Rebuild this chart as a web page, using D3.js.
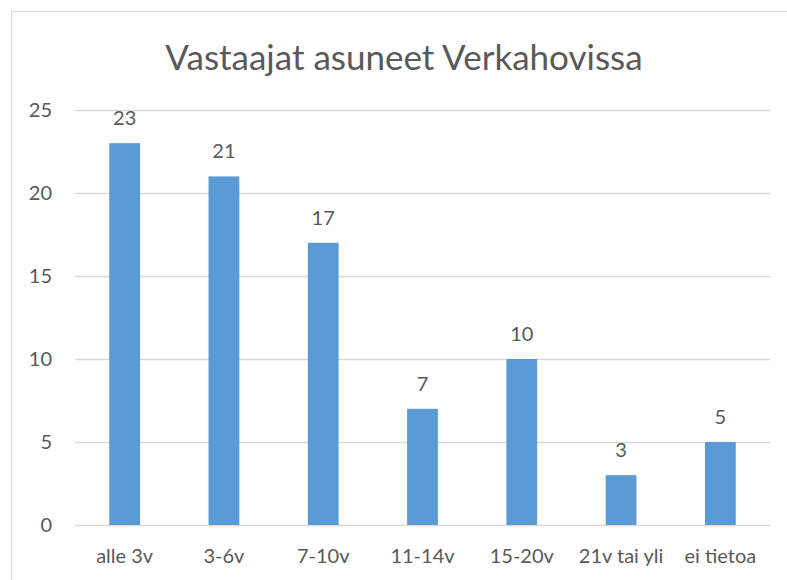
<!DOCTYPE html>
<html>
<head>
<meta charset="utf-8">
<script src="https://cdn.jsdelivr.net/npm/d3@7"></script>
<style>
  body { margin: 0; background: #fff; }
  text { font-family: Lato, "Open Sans", sans-serif; fill: #595959; }
</style>
</head>
<body>
<div id="chart"></div>
<script>
var categories = ["alle 3v", "3-6v", "7-10v", "11-14v", "15-20v", "21v tai yli", "ei tietoa"];
var values = [23, 21, 17, 7, 10, 3, 5];
var yTicks = [0, 5, 10, 15, 20, 25];
var title = "Vastaajat asuneet Verkahovissa";

var width = 787, height = 580;
var margin = { left: 75, right: 17, top: 110, bottom: 55 };

var svg = d3.select("#chart")
    .append("svg")
    .attr("width", width)
    .attr("height", height);

// outer frame (only left and top edges are visible in the crop)
svg.append("path")
    .attr("d", "M11.5," + height + "V11.5H" + width)
    .attr("fill", "none")
    .attr("stroke", "#d9d9d9")
    .attr("stroke-width", 1);

var x = d3.scaleBand()
    .domain(categories)
    .range([margin.left, width - margin.right]);

var y = d3.scaleLinear()
    .domain([0, 25])
    .range([height - margin.bottom, margin.top]);

var barW = x.bandwidth() * 0.31;

// gridlines
svg.append("g").selectAll("line")
    .data(yTicks)
    .enter().append("line")
    .attr("x1", margin.left)
    .attr("x2", width - margin.right)
    .attr("y1", function (d) { return Math.round(y(d)) + 0.5; })
    .attr("y2", function (d) { return Math.round(y(d)) + 0.5; })
    .attr("stroke", "#d9d9d9")
    .attr("stroke-width", 1.3);

// y tick labels
svg.append("g").selectAll("text")
    .data(yTicks)
    .enter().append("text")
    .attr("x", 52)
    .attr("y", function (d) { return y(d); })
    .attr("dy", "0.36em")
    .attr("text-anchor", "end")
    .style("font-size", "20px")
    .text(function (d) { return d; });

// bars
var bar = svg.append("g").selectAll("g")
    .data(values)
    .enter().append("g");

bar.append("rect")
    .attr("x", function (d, i) { return x(categories[i]) + x.bandwidth() / 2 - barW / 2; })
    .attr("y", function (d) { return y(d); })
    .attr("width", barW)
    .attr("height", function (d) { return y(0) - y(d); })
    .attr("fill", "#5b9bd5");

bar.append("text")
    .attr("x", function (d, i) { return x(categories[i]) + x.bandwidth() / 2; })
    .attr("y", function (d) { return y(d) - 18; })
    .attr("text-anchor", "middle")
    .style("font-size", "20px")
    .text(function (d) { return d; });

// category labels
svg.append("g").selectAll("text")
    .data(categories)
    .enter().append("text")
    .attr("x", function (d) { return x(d) + x.bandwidth() / 2; })
    .attr("y", 563)
    .attr("text-anchor", "middle")
    .style("font-size", "20px")
    .text(function (d) { return d; });

// title
svg.append("text")
    .attr("x", 404)
    .attr("y", 70)
    .attr("text-anchor", "middle")
    .style("font-size", "35px")
    .text(title);
</script>
</body>
</html>
